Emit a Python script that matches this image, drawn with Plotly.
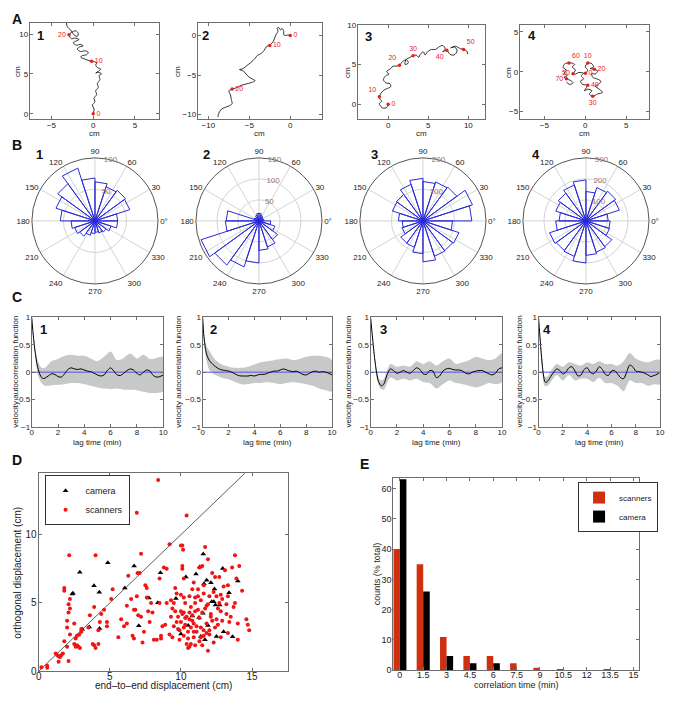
import plotly.graph_objects as go

FONT = "Liberation Sans, Arial, Helvetica, sans-serif"
# the page body keeps its default 8px margin on every side, so the figure is 16px smaller than the
# window and all positions below (given in window pixels) are shifted by 8px
PAGE_MARGIN = 8
W, H = 678 - 2 * PAGE_MARGIN, 704 - 2 * PAGE_MARGIN

# ---------------- A: trajectories (cm) ----------------
A1_path = [(0.0,0.0),(0.1,0.6),(-0.1,1.1),(0.2,1.5),(0.1,2.0),(0.4,2.4),(0.3,2.9),(0.6,3.3),(0.5,3.8),(0.8,4.3),
           (0.7,4.8),(1.0,5.0),(0.6,5.2),(0.3,5.1),(0.7,5.4),(0.9,5.6),(0.5,5.8),(0.3,6.1),(0.4,6.4),(-0.2,6.6),
           (-0.6,6.7),(-1.1,6.9),(-1.5,7.1),(-1.3,7.3),(-0.8,7.4),(-0.6,7.7),(-1.0,7.9),(-1.5,7.8),(-1.9,8.1),(-1.6,8.4),
           (-1.2,8.5),(-1.5,8.7),(-2.0,8.6),(-2.4,8.9),(-2.1,9.1),(-1.7,9.3),(-2.2,9.5),(-2.6,9.4),(-2.9,9.9),(-2.6,10.2),
           (-2.1,10.4),(-1.8,10.1),(-1.9,9.7),(-2.3,9.9),(-2.7,10.5),(-3.1,10.9),(-3.2,11.4)]
A1_marks = [(0.0,0.0),(-0.2,6.6),(-2.9,9.9)]
A1_mark_labels = ["0","10","20"]

A2_path = [(0.0,0.0),(-0.3,0.05),(-0.6,0.0),(-0.8,0.1),(-0.8,0.5),(-1.0,0.9),(-1.2,0.7),(-1.4,1.0),(-1.6,0.9),(-1.5,0.5),
           (-1.7,0.2),(-1.9,-0.3),(-2.1,-0.8),(-2.5,-1.2),(-2.9,-1.4),(-3.2,-1.9),(-3.6,-2.3),(-4.0,-2.5),(-4.3,-2.9),(-4.8,-3.4),
           (-5.3,-3.8),(-5.8,-4.2),(-6.2,-4.3),(-5.7,-4.5),(-5.3,-5.0),(-4.8,-5.4),(-4.3,-5.7),(-4.6,-5.9),(-5.3,-6.1),(-6.0,-6.3),
           (-6.6,-6.6),(-7.1,-6.8),(-7.5,-7.0),(-7.3,-7.5),(-7.2,-8.1),(-7.1,-8.6),(-7.5,-8.9),(-8.0,-9.1),(-8.4,-9.3),(-8.6,-9.6),
           (-8.8,-10.0),(-8.8,-10.3)]
A2_marks = [(0.0,0.0),(-2.5,-1.25),(-7.1,-6.75)]
A2_mark_labels = ["0","10","20"]

A3_path = [(0.0,0.0),(-0.2,-0.4),(-0.6,-0.5),(-0.9,-0.3),(-1.1,0.1),(-0.8,0.4),(-1.0,0.6),(-1.1,0.95),(-0.9,1.4),(-0.5,1.8),
           (-0.1,2.0),(0.3,2.2),(0.2,2.6),(-0.3,2.7),(-0.6,3.1),(-0.3,3.6),(0.1,3.8),(-0.2,4.1),(0.3,4.5),(0.6,4.8),
           (1.0,4.8),(1.4,4.9),(1.8,5.4),(2.3,5.6),(2.5,5.2),(2.1,5.0),(2.2,5.6),(2.7,5.9),(3.1,6.1),(3.5,6.2),
           (3.8,5.9),(4.0,6.3),(4.4,6.6),(4.6,6.2),(4.9,6.6),(5.4,6.9),(5.9,6.9),(6.3,7.2),(6.8,7.4),(7.1,7.0),
           (6.8,6.6),(7.3,6.8),(7.7,6.3),(8.2,6.2),(8.6,6.7),(8.3,7.2),(7.8,7.1),(8.4,7.3),(9.0,7.0),(9.4,6.9),
           (9.8,6.7),(9.9,6.3)]
A3_marks = [(0.0,0.0),(-1.1,0.95),(1.4,4.9),(3.1,6.1),(7.3,6.8),(9.4,6.9)]
A3_mark_labels = ["0","10","20","30","40","50"]

A4_path = [(0.0,-0.2),(0.3,0.2),(0.0,0.6),(0.3,1.1),(0.8,1.0),(1.0,0.6),(0.6,0.4),(1.1,0.3),(1.5,0.1),(1.2,-0.3),
           (0.8,-0.2),(0.9,-0.7),(1.4,-0.9),(1.9,-1.2),(1.6,-1.6),(1.2,-1.8),(1.7,-2.2),(2.1,-2.6),(1.5,-2.8),(0.9,-3.1),
           (0.5,-2.8),(0.8,-2.4),(0.3,-2.2),(-0.1,-2.4),(0.2,-1.9),(0.3,-1.7),(-0.3,-1.6),(-0.6,-1.2),(-0.2,-0.9),(-0.5,-0.5),
           (-0.2,-0.2),(-0.8,-0.1),(-1.2,-0.3),(-1.5,-0.25),(-1.2,0.2),(-1.6,0.6),(-1.3,0.9),(-1.7,1.1),(-2.0,1.1),(-2.5,1.0),
           (-2.7,0.5),(-2.3,0.2),(-2.6,-0.2),(-2.2,-0.5),(-2.6,-0.7),(-2.3,-0.9),(-1.8,-1.1),(-1.5,-1.4),(-1.9,-1.6),(-2.3,-1.3)]
A4_marks = [(0.0,-0.2),(0.3,1.1),(1.1,0.3),(0.9,-3.1),(0.3,-1.7),(-1.5,-0.25),(-2.0,1.1),(-2.3,-0.9)]
A4_mark_labels = ["0","10","20","30","40","50","60","70"]

# ---------------- B: rose histograms (20 bins) ----------------
B_bin_centers = [9,27,45,63,81,99,117,135,153,171,189,207,225,243,261,279,297,315,333,351]
B1_counts = [36,58,60,57,62,68,88,73,65,55,38,34,30,24,20,18,20,22,27,36]
B2_counts = [12,10,12,14,18,18,14,10,12,78,80,145,130,115,100,70,65,55,40,28]
B3_counts = [155,165,133,130,125,135,122,104,102,78,66,70,87,88,104,130,118,117,120,94]
B4_counts = [106,167,175,167,140,195,180,163,151,128,144,182,175,178,200,164,157,152,118,115]
B_rmax = [100,150,200,300]
B_rticks = [[50,100],[50,100,150],[100,200],[100,200,300]]
B_angle_ticks = [0,30,60,90,120,150,180,210,240,270,300,330]
B_angle_labels = ["0°","30","60","90","120","150","180","210","240","270","300","330"]

# ---------------- C: velocity autocorrelation ----------------
C_t_mean = [0,0.1,0.2,0.3,0.4,0.5,0.6,0.8,1.0,1.25,1.5,1.75,2.0,2.25,2.5,2.75,3.0,3.25,3.5,3.75,4.0,4.25,4.5,4.75,
            5.0,5.25,5.5,5.75,6.0,6.25,6.5,6.75,7.0,7.25,7.5,7.75,8.0,8.25,8.5,8.75,9.0,9.25,9.5,9.75,10.0]
C1_mean = [1.0,0.72,0.48,0.3,0.15,0.05,-0.03,-0.11,-0.11,-0.07,-0.03,-0.04,-0.08,-0.09,-0.03,0.05,0.08,0.06,0.05,0.06,
           0.04,0.02,0.01,-0.02,-0.05,-0.07,-0.05,0.03,0.08,0.02,-0.05,-0.06,-0.02,0.03,0.06,0.04,-0.02,-0.05,0.0,0.04,
           0.02,-0.06,-0.09,-0.08,-0.05]
C2_mean = [1.0,0.65,0.45,0.33,0.27,0.22,0.19,0.14,0.1,0.06,0.04,0.03,0.02,0.0,-0.03,-0.06,-0.07,-0.07,-0.07,-0.06,
           -0.07,-0.05,-0.04,-0.04,-0.02,0.0,0.02,0.02,0.04,0.06,0.04,0.02,0.01,0.02,-0.01,-0.04,-0.05,-0.02,0.01,0.02,
           0.0,0.01,0.0,-0.02,-0.05]
C3_mean = [1.0,0.75,0.5,0.27,0.08,-0.07,-0.17,-0.25,-0.22,-0.05,0.06,0.03,-0.02,0.0,0.03,0.0,-0.02,0.03,0.08,0.05,
           -0.03,-0.04,0.03,0.02,-0.1,-0.07,0.02,0.06,0.07,0.05,0.04,0.04,0.02,-0.02,-0.03,0.0,0.02,0.03,0.03,0.0,
           -0.03,-0.05,-0.02,0.06,0.08]
C4_mean = [1.0,0.7,0.4,0.15,-0.05,-0.16,-0.19,-0.15,-0.08,0.0,0.06,0.03,-0.03,0.0,0.08,0.1,0.02,-0.07,-0.05,0.05,
           0.08,0.0,-0.03,0.02,0.1,0.05,-0.04,-0.06,0.02,0.03,-0.03,-0.1,-0.12,0.0,0.13,0.1,0.02,0.01,0.0,-0.02,
           -0.05,-0.08,-0.06,-0.04,0.0]
C_t_band = [0,0.1,0.2,0.3,0.5,0.75,1.0,1.5,2.0,2.5,3.0,3.5,4.0,4.5,5.0,5.5,6.0,6.5,7.0,7.5,8.0,8.5,9.0,9.5,10.0]
C1_upper = [1.0,0.78,0.55,0.38,0.18,0.08,0.08,0.2,0.24,0.3,0.32,0.3,0.3,0.25,0.2,0.28,0.38,0.22,0.26,0.34,0.25,0.32,0.24,0.26,0.28]
C1_lower = [1.0,0.66,0.42,0.22,-0.08,-0.2,-0.25,-0.24,-0.23,-0.22,-0.2,-0.2,-0.22,-0.25,-0.28,-0.3,-0.31,-0.3,-0.32,-0.32,-0.33,-0.36,-0.38,-0.38,-0.35]
C2_upper = [1.0,0.72,0.55,0.48,0.4,0.3,0.22,0.14,0.1,0.08,0.08,0.1,0.14,0.18,0.2,0.22,0.24,0.25,0.22,0.24,0.28,0.3,0.3,0.28,0.22]
C2_lower = [1.0,0.58,0.35,0.2,0.05,-0.02,-0.05,-0.1,-0.13,-0.18,-0.22,-0.22,-0.2,-0.2,-0.18,-0.2,-0.22,-0.2,-0.18,-0.2,-0.22,-0.25,-0.3,-0.33,-0.35]
C3_upper = [1.0,0.78,0.55,0.32,0.0,-0.15,-0.12,0.15,0.1,0.12,0.1,0.2,0.15,0.2,0.12,0.2,0.25,0.15,0.18,0.22,0.28,0.25,0.22,0.25,0.35]
C3_lower = [1.0,0.72,0.45,0.22,-0.15,-0.3,-0.32,-0.1,-0.15,-0.12,-0.15,-0.12,-0.18,-0.2,-0.3,-0.22,-0.15,-0.2,-0.22,-0.25,-0.28,-0.25,-0.2,-0.22,-0.18]
C4_upper = [1.0,0.75,0.48,0.25,-0.08,-0.08,0.02,0.15,0.1,0.18,0.15,0.12,0.18,0.15,0.2,0.15,0.15,0.12,0.2,0.35,0.25,0.2,0.18,0.22,0.22]
C4_lower = [1.0,0.65,0.32,0.05,-0.25,-0.25,-0.18,-0.05,-0.15,-0.05,-0.15,-0.12,-0.12,-0.18,-0.1,-0.2,-0.2,-0.25,-0.35,-0.15,-0.2,-0.2,-0.25,-0.22,-0.22]

# ---------------- D: displacement scatter (cm) ----------------
D_camera = [(3.17,10.95),(4.86,7.94),(2.89,7.25),(3.89,6.27),(2.41,5.72),(2.36,5.65),(4.26,5.79),(6.06,6.09),(6.71,7.71),
            (8.56,7.22),(7.75,5.37),(8.38,5.02),(9.65,5.32),(10.35,6.9),(11.06,7.13),(11.32,7.64),(11.57,8.59),(11.62,6.41),
            (11.81,6.67),(12.11,6.48),(12.36,6.02),(12.17,5.09),(12.31,5.09),(12.43,4.86),(12.94,7.52),(13.38,5.74),(14.0,6.6),
            (12.73,4.86),(11.27,3.94),(11.55,4.24),(10.51,3.36),(11.9,3.36),(11.39,2.55),(11.69,2.31),(12.5,2.55),(13.0,2.89),
            (13.63,2.52),(10.0,2.73),(7.04,3.33),(4.28,3.13),(3.56,3.24),(3.06,3.08),(10.81,4.05)]
D_scanners = [(0.2,0.3),(0.6,0.25),(0.6,0.4),(1.2,1.3),(1.3,1.2),(1.4,1.1),(1.5,1.05),(1.6,1.2),(1.7,1.3),(1.4,0.7),(2.1,0.75),
              (1.8,2.2),(2.0,1.8),(1.8,6.1),(1.8,5.9),(2.15,8.5),(2.1,4.9),(2.2,5.3),(2.1,4.3),(2.2,4.6),(2.0,3.7),(2.0,3.2),
              (2.2,2.7),(2.5,3.5),(2.6,2.4),(2.5,2.0),(2.7,1.9),(2.6,1.8),(2.8,1.8),(2.9,1.7),(2.85,2.7),(3.0,2.9),(3.0,3.1),
              (2.7,2.6),(3.5,3.2),(3.6,4.1),(3.9,4.7),(4.0,8.5),(3.8,2.0),(3.9,1.9),(4.0,1.7),(4.2,2.0),(4.3,3.6),(4.4,4.2),
              (4.6,4.5),(4.8,3.6),(4.8,3.3),(5.1,5.3),(5.2,6.0),(4.2,3.0),(5.6,2.5),(5.8,3.8),(6.0,3.3),(6.2,3.5),(6.2,4.8),
              (6.5,5.3),(6.3,7.0),(6.6,2.6),(6.7,2.4),(6.7,4.5),(6.8,4.5),(6.9,11.6),(6.9,5.5),(6.95,7.2),(7.0,4.1),(7.1,7.2),
              (7.2,8.6),(7.2,4.0),(7.3,2.1),(7.4,2.9),(7.5,6.3),(7.6,6.1),(7.6,5.4),(7.7,4.4),(7.8,3.6),(7.9,5.0),(8.0,4.3),
              (8.1,2.3),(8.3,2.3),(8.4,14.0),(8.5,6.8),(8.5,5.0),(8.6,2.6),(8.6,2.4),(8.8,7.6),(8.9,3.4),(9.0,7.5),(9.0,5.0),
              (9.2,9.3),(9.3,5.2),(9.4,4.6),(9.4,2.5),(9.5,5.0),(9.6,6.1),(9.7,3.6),(9.7,5.7),(9.8,3.1),(9.9,2.3),(9.8,4.0),
              (9.3,4.0),(9.5,3.3),(9.9,3.0),(9.2,2.7),(10.2,2.6),(10.0,9.2),(10.1,9.2),(10.15,8.9),(10.1,7.7),(10.1,7.5),
              (10.0,4.4),(10.1,4.2),(10.2,4.3),(10.0,3.6),(10.3,5.0),(10.2,5.4),(10.4,11.4),(10.4,4.0),(10.3,3.4),(10.5,2.9),
              (10.5,2.4),(10.6,1.8),(10.7,2.0),(10.5,1.7),(10.6,3.8),(10.6,5.5),(10.7,4.7),(10.8,6.0),(10.8,3.7),(10.9,3.5),
              (10.9,2.5),(11.0,4.4),(11.0,5.4),(11.0,5.0),(11.1,3.3),(11.1,2.9),(11.2,4.5),(11.2,5.5),(11.2,6.0),(11.3,7.6),
              (11.3,2.2),(11.4,3.2),(11.4,2.5),(11.5,1.9),(11.5,4.3),(11.5,7.7),(11.6,6.3),(11.6,5.7),(11.7,9.1),(11.7,4.6),
              (11.8,3.5),(11.8,4.8),(11.9,8.2),(11.9,4.9),(12.0,5.5),(12.0,3.0),(12.0,2.7),(12.1,4.2),(12.2,7.2),(12.2,3.7),
              (12.3,2.1),(12.3,5.8),(12.4,6.9),(12.4,3.2),(12.5,5.5),(12.6,4.6),(12.6,3.4),(12.7,6.9),(12.8,5.6),(12.8,4.4),
              (12.8,2.5),(12.9,3.7),(13.0,6.2),(13.1,7.4),(13.2,4.9),(13.3,6.3),(13.4,3.6),(13.3,2.8),(13.5,4.0),(13.6,7.6),
              (13.7,4.7),(13.8,8.5),(13.9,6.8),(13.8,5.0),(14.0,3.5),(14.0,2.3),(14.1,7.7),(14.3,5.9),(14.6,3.8),(14.7,3.4),
              (14.8,3.0),(13.3,5.5),(12.7,5.0),(11.9,1.5),(10.3,3.9),(10.6,4.3),(10.8,4.1),(11.3,3.9),(10.9,2.9),(10.4,2.0),
              (11.0,1.9),(10.2,3.2),(11.6,3.0),(10.7,3.2),(12.1,4.0),(11.4,5.2),(9.6,4.4),(8.7,3.3),(11.8,2.8),(12.5,3.8),
              (10.0,5.6),(10.2,6.8),(10.9,6.5),(11.6,2.6),(12.9,5.3),(13.2,4.2)]
D_diag = [0, 14.5]

# ---------------- E: correlation time histogram ----------------
E_bins = [0,1.5,3,4.5,6,7.5,9,10.5,12,13.5,15]
E_bin_labels = ["0","1.5","3","4.5","6","7.5","9","10.5","12","13.5","15"]
E_scanners = [40,35,11,4.7,4.7,2.3,0.8,0.4,0,0.4,0]
E_camera = [63,26,4.7,2.3,2.3,0,0,0,0,0,0]

# ---------------- helpers (positions given in window pixels) ----------------
def fx(p):
    return (p - PAGE_MARGIN) / W

def fy(p):
    return 1 - (p - PAGE_MARGIN) / H

FRAME = "#6e6e6e"
TXT = "#222222"
fig = go.Figure()
layout = dict(width=W, height=H, margin=dict(l=0, r=0, t=0, b=0),
              paper_bgcolor="white", plot_bgcolor="white",
              font=dict(family=FONT, size=8, color=TXT), annotations=[])

def text_at(x, y, text, size=8, angle=0, bold=False, color="#222"):
    layout["annotations"].append(dict(x=fx(x), y=fy(y), xref="paper", yref="paper",
                                      text=("<b>%s</b>" % text) if bold else text,
                                      showarrow=False, textangle=angle,
                                      font=dict(size=size, family=FONT, color=color),
                                      xanchor="center", yanchor="middle"))

def cart(idx, xd, yd, xr, yr, xt, yt, fs=8, xtt=None, ytt=None, xstand=-2, ystand=-1):
    sx = "" if idx == 1 else str(idx)
    common = dict(showgrid=False, zeroline=False, showline=True, linecolor=FRAME, linewidth=1,
                  mirror="ticks", ticks="inside", ticklen=3, tickcolor=FRAME,
                  tickfont=dict(size=fs, family=FONT, color=TXT))
    layout["xaxis" + sx] = dict(common, domain=[fx(xd[0]), fx(xd[1])], range=xr, tickvals=xt,
                                ticktext=xtt, anchor="y" + sx, ticklabelstandoff=xstand)
    layout["yaxis" + sx] = dict(common, domain=[fy(yd[1]), fy(yd[0])], range=yr, tickvals=yt,
                                ticktext=ytt, anchor="x" + sx, ticklabelstandoff=ystand)
    return "x" + sx, "y" + sx

# ---------------- panel A ----------------
A_specs = [
    (A1_path, A1_marks, A1_mark_labels, ["middle right", "middle right", "middle left"],
     (27, 158), (19, 117), [-7.6, 7.9], [-0.7, 11.4], [-5, 0, 5], [0, 5, 10]),
    (A2_path, A2_marks, A2_mark_labels, ["middle right", "middle right", "middle right"],
     (197, 323), (19, 117), [-11.3, 3.9], [-10.6, 1.6], [-10, -5, 0], [-10, -5, 0]),
    (A3_path, A3_marks, A3_mark_labels, ["middle right", "top left", "top left", "top center", "bottom left", "top right"],
     (359, 488), (21, 117), [-3.8, 12.1], [-1.9, 10], [0, 5, 10], [0, 5, 10]),
    (A4_path, A4_marks, A4_mark_labels, ["middle right", "top center", "middle right", "bottom center", "middle right",
                                         "middle left", "top right", "middle left"],
     (523, 654), (21, 117), [-8.0, 7.8], [-6.0, 5.9], [-5, 0, 5], [-5, 0, 5]),
]
A_num_pos = [(38, 32), (205, 32), (370, 33), (535, 32)]
A_ytitle_x = [14, 176, 348, 511]
for i, (path, marks, mlabels, tpos, xd, yd, xr, yr, xt, yt) in enumerate(A_specs):
    xa, ya = cart(i + 1, xd, yd, xr, yr, xt, yt)
    fig.add_trace(go.Scatter(x=[p[0] for p in path], y=[p[1] for p in path], mode="lines",
                             line=dict(color="black", width=0.8, shape="spline", smoothing=0.9),
                             xaxis=xa, yaxis=ya, showlegend=False, hoverinfo="skip"))
    fig.add_trace(go.Scatter(x=[p[0] for p in marks], y=[p[1] for p in marks], mode="markers+text",
                             text=mlabels, textposition=tpos,
                             textfont=dict(color="#e8201c", size=7, family=FONT),
                             marker=dict(color="#e8201c", size=3.5),
                             xaxis=xa, yaxis=ya, showlegend=False, hoverinfo="skip"))
    text_at(*A_num_pos[i], str(i + 1), size=13, bold=True, color="#111")
    text_at((xd[0] + xd[1]) / 2, 131, "cm", size=8)
    text_at(A_ytitle_x[i], (yd[0] + yd[1]) / 2, "cm", size=8, angle=-90)

# ---------------- panel B ----------------
B_centers = [(93, 220), (259, 220), (425, 220), (590, 220)]
B_radius = 64
B_counts_all = [B1_counts, B2_counts, B3_counts, B4_counts]
B_num_pos = [(37, 153), (206, 153), (376, 153), (539, 153)]
for i, counts in enumerate(B_counts_all):
    pname = "polar" if i == 0 else "polar%d" % (i + 1)
    cx, cy = B_centers[i]
    layout[pname] = dict(
        domain=dict(x=[fx(cx - B_radius), fx(cx + B_radius)], y=[fy(cy + B_radius), fy(cy - B_radius)]),
        bgcolor="white",
        radialaxis=dict(range=[0, B_rmax[i]], tickvals=B_rticks[i], showline=False, ticks="",
                        gridcolor="#d4d4d4", gridwidth=1, angle=86, tickangle=86,
                        tickfont=dict(size=8, color="#a07272", family=FONT)),
        angularaxis=dict(tickvals=B_angle_ticks, ticktext=B_angle_labels, direction="counterclockwise",
                         rotation=0, linecolor="#555555", linewidth=1, gridcolor="#d4d4d4", ticks="",
                         tickfont=dict(size=8, color=TXT, family=FONT)))
    r, th = [], []
    for c, v in zip(B_bin_centers, counts):
        r += [0, v, v, 0]
        th += [0, c - 9, c + 9, 0]
    fig.add_trace(go.Scatterpolar(r=r, theta=th, mode="lines", line=dict(color="#2a2ad8", width=1),
                                  subplot=pname, showlegend=False, hoverinfo="skip"))
    text_at(*B_num_pos[i], str(i + 1), size=13, bold=True, color="#111")

# ---------------- panel C ----------------
C_means = [C1_mean, C2_mean, C3_mean, C4_mean]
C_uppers = [C1_upper, C2_upper, C3_upper, C4_upper]
C_lowers = [C1_lower, C2_lower, C3_lower, C4_lower]
C_xd = [(29, 162), (202, 333), (372, 505), (542, 665)]
C_num_pos = [(41, 330), (213, 330), (385, 330), (551, 330)]
C_ytitle_x = [13, 178, 350, 523]
for i in range(4):
    xa, ya = cart(5 + i, C_xd[i], (318, 429), [0, 10], [-1, 1], [0, 2, 4, 6, 8, 10],
                  [-1, -0.5, 0, 0.5, 1], ytt=["\u22121", "\u22120.5", "0", "0.5", "1"])
    fig.add_trace(go.Scatter(x=C_t_band + C_t_band[::-1], y=C_uppers[i] + C_lowers[i][::-1], mode="lines",
                             fill="toself", fillcolor="#c8c8c8", line=dict(width=0, shape="spline", smoothing=0.8),
                             xaxis=xa, yaxis=ya, showlegend=False, hoverinfo="skip"))
    fig.add_trace(go.Scatter(x=[0, 10], y=[0, 0], mode="lines", line=dict(color="#5555e0", width=1),
                             xaxis=xa, yaxis=ya, showlegend=False, hoverinfo="skip"))
    fig.add_trace(go.Scatter(x=C_t_mean, y=C_means[i], mode="lines",
                             line=dict(color="black", width=1, shape="spline", smoothing=0.8),
                             xaxis=xa, yaxis=ya, showlegend=False, hoverinfo="skip"))
    text_at(*C_num_pos[i], str(i + 1), size=13, bold=True, color="#111")
    text_at((C_xd[i][0] + C_xd[i][1]) / 2, 445, "lag time (min)", size=8)
    text_at(C_ytitle_x[i], 373, "velocity autocorrelation function", size=8, angle=-90)

# ---------------- panel D ----------------
xa, ya = cart(9, (36, 288), (476, 677), [0, 17.5], [0, 14.5], [0, 5, 10, 15], [0, 5, 10], fs=10, xstand=-4)
fig.add_trace(go.Scatter(x=D_diag, y=D_diag, mode="lines", line=dict(color="#333333", width=0.8),
                         xaxis=xa, yaxis=ya, showlegend=False, hoverinfo="skip"))
fig.add_trace(go.Scatter(x=[p[0] for p in D_camera], y=[p[1] for p in D_camera], mode="markers",
                         name="camera", marker=dict(symbol="triangle-up", color="black", size=5),
                         xaxis=xa, yaxis=ya, legend="legend"))
fig.add_trace(go.Scatter(x=[p[0] for p in D_scanners], y=[p[1] for p in D_scanners], mode="markers",
                         name="scanners", marker=dict(symbol="circle", color="#f01414", size=4),
                         xaxis=xa, yaxis=ya, legend="legend"))
layout["legend"] = dict(x=fx(42), y=fy(478), xanchor="left", yanchor="top", bgcolor="white",
                        bordercolor="#333", borderwidth=1, font=dict(size=9, family=FONT, color=TXT),
                        itemwidth=30, tracegroupgap=0)
text_at(162, 691, "end\u2013to\u2013end displacement (cm)", size=10)
text_at(15, 577, "orthogonal displacement (cm)", size=10, angle=-90)

# ---------------- panel E ----------------
xa, ya = cart(10, (395, 644), (481, 676), [-0.42, 15.38], [0, 63.4], E_bins, [0, 10, 20, 30, 40, 50, 60],
              fs=9, xtt=E_bin_labels, xstand=-4)
fig.add_trace(go.Bar(x=E_bins, y=E_scanners, name="scanners", marker=dict(color="#d0300e", line=dict(width=0)),
                     xaxis=xa, yaxis=ya, legend="legend2"))
fig.add_trace(go.Bar(x=E_bins, y=E_camera, name="camera", marker=dict(color="black", line=dict(width=0)),
                     xaxis=xa, yaxis=ya, legend="legend2"))
layout["legend2"] = dict(x=fx(582), y=fy(485), xanchor="left", yanchor="top", bgcolor="white",
                         bordercolor="#333", borderwidth=1, font=dict(size=8, family=FONT, color=TXT),
                         itemwidth=30, tracegroupgap=0)
layout["barmode"] = "group"
layout["bargap"] = 0.44
layout["bargroupgap"] = 0.0
text_at(520, 691, "correlation time (min)", size=9)
text_at(378, 578, "counts (% total)", size=9, angle=-90)

# ---------------- section letters ----------------
for (x, y, t) in [(14, 15, "A"), (14, 143, "B"), (14, 297, "C"), (14, 463, "D"), (366, 467, "E")]:
    text_at(x, y, t, size=14, bold=True, color="#111")

fig.update_layout(**layout)
fig.write_html("out.html")
